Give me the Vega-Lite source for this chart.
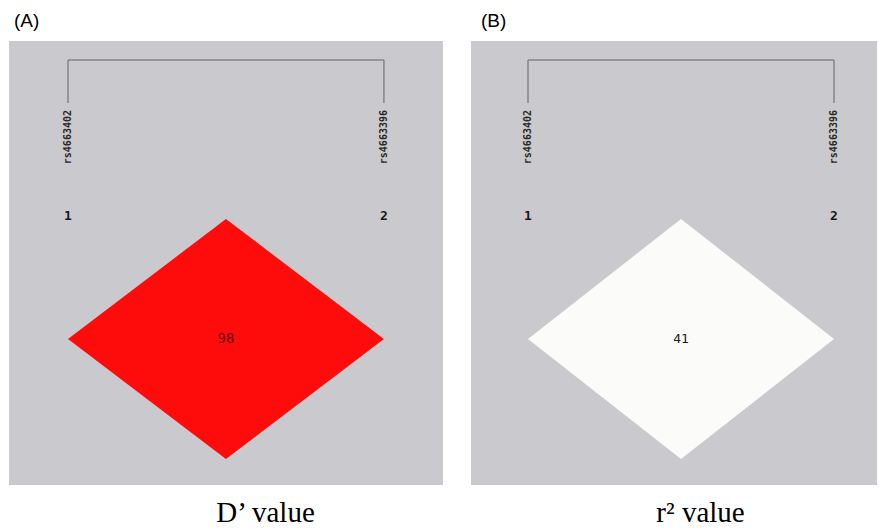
{
  "$schema": "https://vega.github.io/schema/vega-lite/v6.json",
  "padding": {"left": 9, "top": 12, "right": 0, "bottom": 0},
  "background": "white",
  "spacing": 28,
  "config": {"view": {"stroke": null}},
  "datasets": {
    "markers": [
      {"panel": "A", "pos": 1, "snp": "rs4663402"},
      {"panel": "A", "pos": 2, "snp": "rs4663396"},
      {"panel": "B", "pos": 1, "snp": "rs4663402"},
      {"panel": "B", "pos": 2, "snp": "rs4663396"}
    ],
    "pairs": [
      {"panel": "A", "measure": "D'", "a": 1, "b": 2, "pos": 1.5, "dist": 1, "value": 98},
      {"panel": "B", "measure": "r2", "a": 1, "b": 2, "pos": 1.5, "dist": 1, "value": 41}
    ],
    "diamond": [
      {"panel": "A", "pos": 1, "upper": 1, "lower": 1},
      {"panel": "A", "pos": 1.5, "upper": 0.5, "lower": 1.5},
      {"panel": "A", "pos": 2, "upper": 1, "lower": 1},
      {"panel": "B", "pos": 1, "upper": 1, "lower": 1},
      {"panel": "B", "pos": 1.5, "upper": 0.5, "lower": 1.5},
      {"panel": "B", "pos": 2, "upper": 1, "lower": 1}
    ]
  },
  "hconcat": [
    {
      "width": 434,
      "height": 444,
      "title": {"text": "(A)", "anchor": "start", "dx": 5, "font": "Liberation Sans", "fontSize": 19, "fontWeight": "normal", "color": "#000000", "offset": 10},
      "view": {"fill": "#cac9cd", "stroke": null},
      "layer": [
        {
          "data": {"name": "diamond"},
          "transform": [{"filter": "datum.panel === 'A'"}],
          "mark": {"type": "area", "color": "#fe0c0c", "interpolate": "linear", "orient": "vertical"},
          "encoding": {
            "x": {"field": "pos", "type": "quantitative", "scale": {"domain": [0.8133, 2.187], "nice": false, "zero": false},
              "axis": {"title": "D’ value", "domain": false, "ticks": false, "labels": false, "grid": false, "titleFont": "Liberation Serif", "titleFontSize": 29, "titleFontWeight": "normal", "titleColor": "#000000", "titleX": 256, "titleY": 36, "titleBaseline": "alphabetic", "titleAlign": "center"}},
            "y": {"field": "upper", "type": "quantitative", "scale": {"domain": [-0.2417, 1.6083], "reverse": true, "nice": false, "zero": false}, "axis": null},
            "y2": {"field": "lower"}
          }
        },
        {
          "data": {"name": "pairs"},
          "transform": [{"filter": "datum.panel === 'A'"}],
          "mark": {"type": "rule", "color": "#858585", "strokeWidth": 1.5},
          "encoding": {
            "x": {"field": "a", "type": "quantitative", "axis": {"title": "D’ value", "domain": false, "ticks": false, "labels": false, "grid": false, "titleFont": "Liberation Serif", "titleFontSize": 29, "titleFontWeight": "normal", "titleColor": "#000000", "titleX": 256, "titleY": 36, "titleBaseline": "alphabetic", "titleAlign": "center"}},
            "x2": {"field": "b"},
            "y": {"datum": -0.1625, "type": "quantitative", "axis": null}
          }
        },
        {
          "data": {"name": "markers"},
          "transform": [{"filter": "datum.panel === 'A'"}],
          "mark": {"type": "rule", "color": "#858585", "strokeWidth": 1.5},
          "encoding": {
            "x": {"field": "pos", "type": "quantitative", "axis": {"title": "D’ value", "domain": false, "ticks": false, "labels": false, "grid": false, "titleFont": "Liberation Serif", "titleFontSize": 29, "titleFontWeight": "normal", "titleColor": "#000000", "titleX": 256, "titleY": 36, "titleBaseline": "alphabetic", "titleAlign": "center"}},
            "y": {"datum": -0.1625, "type": "quantitative", "axis": null},
            "y2": {"datum": 0.0167}
          }
        },
        {
          "data": {"name": "markers"},
          "transform": [{"filter": "datum.panel === 'A'"}],
          "mark": {"type": "text", "angle": 270, "align": "right", "baseline": "middle", "font": "DejaVu Sans Mono", "fontSize": 10, "fontWeight": "bold", "color": "#2a2a2a"},
          "encoding": {
            "x": {"field": "pos", "type": "quantitative", "axis": {"title": "D’ value", "domain": false, "ticks": false, "labels": false, "grid": false, "titleFont": "Liberation Serif", "titleFontSize": 29, "titleFontWeight": "normal", "titleColor": "#000000", "titleX": 256, "titleY": 36, "titleBaseline": "alphabetic", "titleAlign": "center"}},
            "y": {"datum": 0.0458, "type": "quantitative", "axis": null},
            "text": {"field": "snp"}
          }
        },
        {
          "data": {"name": "markers"},
          "transform": [{"filter": "datum.panel === 'A'"}],
          "mark": {"type": "text", "align": "center", "baseline": "middle", "font": "DejaVu Sans Mono", "fontSize": 13, "fontWeight": "bold", "color": "#1a1a1a"},
          "encoding": {
            "x": {"field": "pos", "type": "quantitative", "axis": {"title": "D’ value", "domain": false, "ticks": false, "labels": false, "grid": false, "titleFont": "Liberation Serif", "titleFontSize": 29, "titleFontWeight": "normal", "titleColor": "#000000", "titleX": 256, "titleY": 36, "titleBaseline": "alphabetic", "titleAlign": "center"}},
            "y": {"datum": 0.4875, "type": "quantitative", "axis": null},
            "text": {"field": "pos", "format": "d"}
          }
        },
        {
          "data": {"name": "pairs"},
          "transform": [{"filter": "datum.panel === 'A'"}],
          "mark": {"type": "text", "align": "center", "baseline": "middle", "font": "DejaVu Sans Mono", "fontSize": 14, "color": "#6a0505"},
          "encoding": {
            "x": {"field": "pos", "type": "quantitative", "axis": {"title": "D’ value", "domain": false, "ticks": false, "labels": false, "grid": false, "titleFont": "Liberation Serif", "titleFontSize": 29, "titleFontWeight": "normal", "titleColor": "#000000", "titleX": 256, "titleY": 36, "titleBaseline": "alphabetic", "titleAlign": "center"}},
            "y": {"field": "dist", "type": "quantitative", "axis": null},
            "text": {"field": "value"}
          }
        }
      ]
    },
    {
      "width": 406,
      "height": 444,
      "title": {"text": "(B)", "anchor": "start", "dx": 10, "font": "Liberation Sans", "fontSize": 19, "fontWeight": "normal", "color": "#000000", "offset": 10},
      "view": {"fill": "#cac9cd", "stroke": null},
      "layer": [
        {
          "data": {"name": "diamond"},
          "transform": [{"filter": "datum.panel === 'B'"}],
          "mark": {"type": "area", "color": "#fbfbf9", "interpolate": "linear", "orient": "vertical"},
          "encoding": {
            "x": {"field": "pos", "type": "quantitative", "scale": {"domain": [0.8137, 2.1405], "nice": false, "zero": false},
              "axis": {"title": "r² value", "domain": false, "ticks": false, "labels": false, "grid": false, "titleFont": "Liberation Serif", "titleFontSize": 29, "titleFontWeight": "normal", "titleColor": "#000000", "titleX": 229, "titleY": 36, "titleBaseline": "alphabetic", "titleAlign": "center"}},
            "y": {"field": "upper", "type": "quantitative", "scale": {"domain": [-0.2417, 1.6083], "reverse": true, "nice": false, "zero": false}, "axis": null},
            "y2": {"field": "lower"}
          }
        },
        {
          "data": {"name": "pairs"},
          "transform": [{"filter": "datum.panel === 'B'"}],
          "mark": {"type": "rule", "color": "#858585", "strokeWidth": 1.5},
          "encoding": {
            "x": {"field": "a", "type": "quantitative", "axis": {"title": "r² value", "domain": false, "ticks": false, "labels": false, "grid": false, "titleFont": "Liberation Serif", "titleFontSize": 29, "titleFontWeight": "normal", "titleColor": "#000000", "titleX": 229, "titleY": 36, "titleBaseline": "alphabetic", "titleAlign": "center"}},
            "x2": {"field": "b"},
            "y": {"datum": -0.1625, "type": "quantitative", "axis": null}
          }
        },
        {
          "data": {"name": "markers"},
          "transform": [{"filter": "datum.panel === 'B'"}],
          "mark": {"type": "rule", "color": "#858585", "strokeWidth": 1.5},
          "encoding": {
            "x": {"field": "pos", "type": "quantitative", "axis": {"title": "r² value", "domain": false, "ticks": false, "labels": false, "grid": false, "titleFont": "Liberation Serif", "titleFontSize": 29, "titleFontWeight": "normal", "titleColor": "#000000", "titleX": 229, "titleY": 36, "titleBaseline": "alphabetic", "titleAlign": "center"}},
            "y": {"datum": -0.1625, "type": "quantitative", "axis": null},
            "y2": {"datum": 0.0167}
          }
        },
        {
          "data": {"name": "markers"},
          "transform": [{"filter": "datum.panel === 'B'"}],
          "mark": {"type": "text", "angle": 270, "align": "right", "baseline": "middle", "font": "DejaVu Sans Mono", "fontSize": 10, "fontWeight": "bold", "color": "#2a2a2a"},
          "encoding": {
            "x": {"field": "pos", "type": "quantitative", "axis": {"title": "r² value", "domain": false, "ticks": false, "labels": false, "grid": false, "titleFont": "Liberation Serif", "titleFontSize": 29, "titleFontWeight": "normal", "titleColor": "#000000", "titleX": 229, "titleY": 36, "titleBaseline": "alphabetic", "titleAlign": "center"}},
            "y": {"datum": 0.0458, "type": "quantitative", "axis": null},
            "text": {"field": "snp"}
          }
        },
        {
          "data": {"name": "markers"},
          "transform": [{"filter": "datum.panel === 'B'"}],
          "mark": {"type": "text", "align": "center", "baseline": "middle", "font": "DejaVu Sans Mono", "fontSize": 13, "fontWeight": "bold", "color": "#1a1a1a"},
          "encoding": {
            "x": {"field": "pos", "type": "quantitative", "axis": {"title": "r² value", "domain": false, "ticks": false, "labels": false, "grid": false, "titleFont": "Liberation Serif", "titleFontSize": 29, "titleFontWeight": "normal", "titleColor": "#000000", "titleX": 229, "titleY": 36, "titleBaseline": "alphabetic", "titleAlign": "center"}},
            "y": {"datum": 0.4875, "type": "quantitative", "axis": null},
            "text": {"field": "pos", "format": "d"}
          }
        },
        {
          "data": {"name": "pairs"},
          "transform": [{"filter": "datum.panel === 'B'"}],
          "mark": {"type": "text", "align": "center", "baseline": "middle", "font": "DejaVu Sans Mono", "fontSize": 13, "color": "#222222"},
          "encoding": {
            "x": {"field": "pos", "type": "quantitative", "axis": {"title": "r² value", "domain": false, "ticks": false, "labels": false, "grid": false, "titleFont": "Liberation Serif", "titleFontSize": 29, "titleFontWeight": "normal", "titleColor": "#000000", "titleX": 229, "titleY": 36, "titleBaseline": "alphabetic", "titleAlign": "center"}},
            "y": {"field": "dist", "type": "quantitative", "axis": null},
            "text": {"field": "value"}
          }
        }
      ]
    }
  ]
}
